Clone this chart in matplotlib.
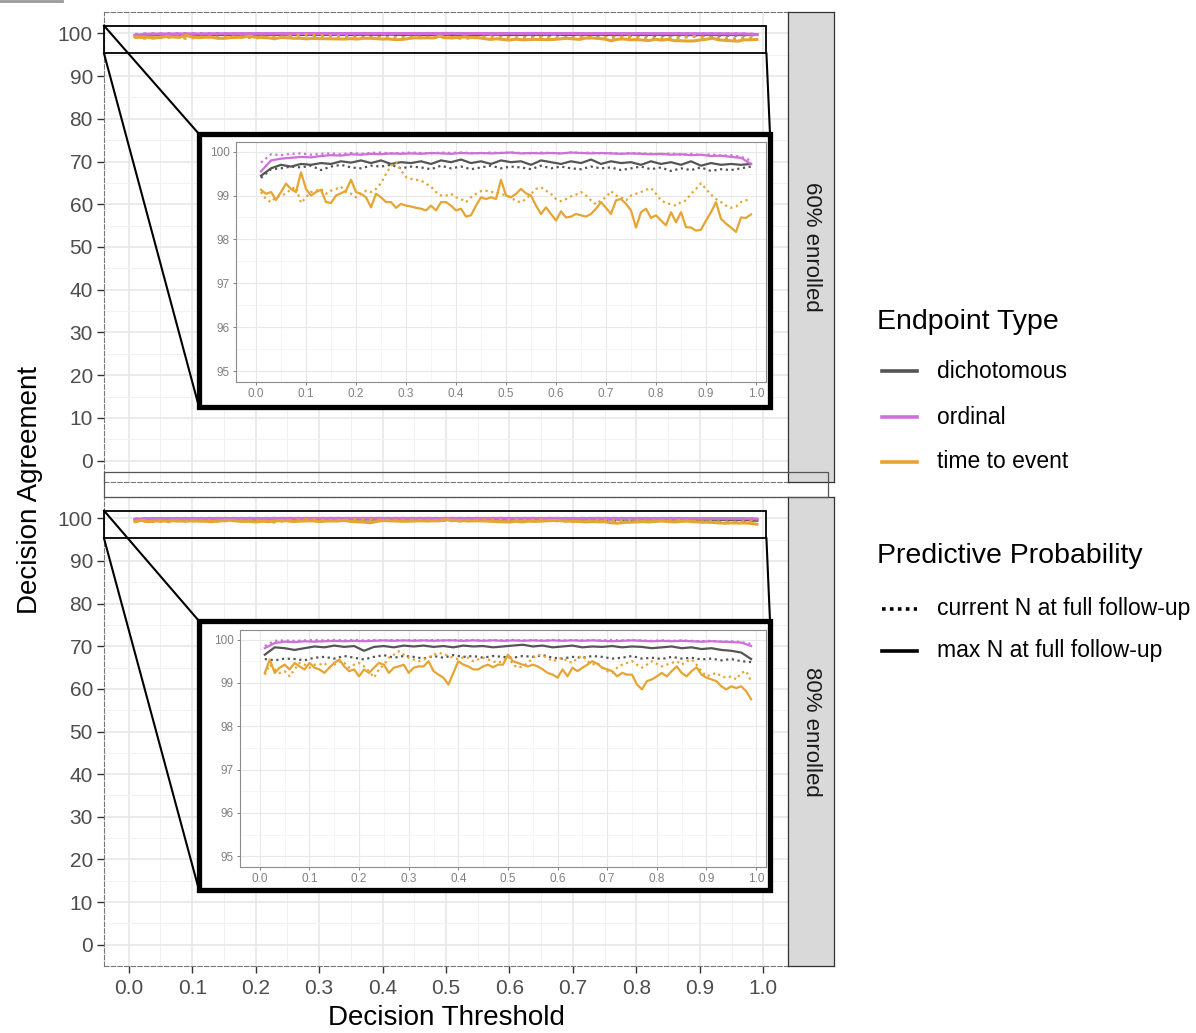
import numpy as np
import matplotlib.pyplot as plt
from matplotlib.patches import Rectangle
from matplotlib.lines import Line2D
from matplotlib.ticker import MultipleLocator

plt.rcParams['font.family'] = ['Liberation Sans', 'DejaVu Sans']

W, H = 1196, 1033

# decision thresholds
thr = np.arange(1, 100) / 100          # 0.01 .. 0.99
thr2 = np.arange(1, 100, 2) / 100      # 0.01, 0.03 .. 0.99 (flatter series)

panels = ["60% enrolled", "80% enrolled"]
endpoints = ["dichotomous", "ordinal", "time to event"]
colors = {"dichotomous": "#555555", "ordinal": "#CF6FD9", "time to event": "#E6A532"}
pp_labels = ["current N at full follow-up", "max N at full follow-up"]

# ---------------- 60% enrolled ----------------
dich_cur_60 = [99.40, 99.60, 99.62, 99.66, 99.64, 99.68, 99.58, 99.66, 99.70, 99.64,
               99.62, 99.68, 99.66, 99.70, 99.62, 99.66, 99.64, 99.60, 99.68, 99.62,
               99.66, 99.60, 99.64, 99.68, 99.62, 99.66, 99.64, 99.60, 99.68, 99.62,
               99.66, 99.62, 99.60, 99.66, 99.62, 99.64, 99.58, 99.62, 99.66, 99.60,
               99.64, 99.56, 99.62, 99.58, 99.64, 99.56, 99.60, 99.58, 99.62, 99.66]
dich_max_60 = [99.45, 99.62, 99.70, 99.66, 99.72, 99.70, 99.74, 99.72, 99.78, 99.75,
               99.80, 99.74, 99.80, 99.72, 99.76, 99.74, 99.78, 99.72, 99.80, 99.76,
               99.82, 99.74, 99.78, 99.72, 99.80, 99.76, 99.78, 99.70, 99.80, 99.76,
               99.72, 99.78, 99.74, 99.82, 99.72, 99.78, 99.74, 99.76, 99.70, 99.78,
               99.72, 99.76, 99.70, 99.78, 99.68, 99.74, 99.70, 99.72, 99.70, 99.72]
ord_cur_60 = [99.75, 99.94, 99.92, 99.95, 99.96, 99.93, 99.95, 99.96, 99.94, 99.97,
              99.95, 99.97, 99.98, 99.96, 99.97, 99.98, 99.97, 99.96, 99.98, 99.97,
              99.98, 99.97, 99.96, 99.98, 99.97, 99.98, 99.97, 99.96, 99.98, 99.97,
              99.96, 99.98, 99.97, 99.98, 99.96, 99.97, 99.95, 99.97, 99.96, 99.95,
              99.94, 99.96, 99.93, 99.95, 99.92, 99.94, 99.91, 99.92, 99.88, 99.80]
ord_max_60 = [99.55, 99.80, 99.84, 99.86, 99.88, 99.87, 99.90, 99.92, 99.91, 99.94,
              99.93, 99.95, 99.94, 99.96, 99.95, 99.96, 99.95, 99.97, 99.96, 99.95,
              99.97, 99.96, 99.97, 99.96, 99.97, 99.98, 99.96, 99.97, 99.96, 99.97,
              99.96, 99.98, 99.97, 99.96, 99.97, 99.96, 99.95, 99.96, 99.95, 99.94,
              99.95, 99.93, 99.94, 99.92, 99.93, 99.90, 99.91, 99.88, 99.86, 99.72]
tte_cur_60 = [99.08, 98.92, 98.85, 98.96, 99.00, 99.04, 99.15, 99.19, 98.83, 98.96,
              99.08, 99.11, 99.15, 99.04, 99.11, 99.15, 99.20, 99.08, 99.04, 98.96,
              99.04, 99.11, 99.08, 99.15, 99.28, 99.49, 99.68, 99.76, 99.57, 99.42,
              99.38, 99.36, 99.34, 99.27, 99.20, 99.08, 99.00, 99.00, 99.04, 98.96,
              98.92, 98.85, 98.96, 99.04, 99.10, 99.11, 99.08, 99.08, 99.04, 99.00,
              98.96, 98.87, 98.85, 98.92, 99.04, 99.15, 99.19, 99.11, 99.04, 98.92,
              98.87, 98.92, 98.98, 99.02, 99.08, 99.00, 98.89, 98.80, 98.89, 98.96,
              99.10, 99.00, 98.96, 98.89, 99.00, 99.04, 99.08, 99.13, 99.17, 99.04,
              98.89, 98.83, 98.80, 98.77, 98.85, 98.89, 99.04, 99.15, 99.28, 99.15,
              99.02, 98.92, 98.85, 98.77, 98.72, 98.75, 98.85, 98.89, 98.92]
tte_max_60 = [99.13, 99.04, 99.08, 98.90, 99.08, 99.27, 99.15, 99.08, 99.53, 99.15,
              99.00, 99.08, 99.13, 98.85, 98.83, 99.00, 99.05, 99.11, 99.36, 99.08,
              99.04, 98.96, 98.73, 99.04, 98.96, 98.85, 98.85, 98.72, 98.81, 98.77,
              98.75, 98.72, 98.70, 98.66, 98.77, 98.66, 98.85, 98.85, 98.77, 98.66,
              98.70, 98.52, 98.55, 98.77, 98.96, 98.92, 98.96, 98.92, 99.36, 99.00,
              98.96, 99.04, 99.15, 99.05, 99.00, 98.77, 98.58, 98.73, 98.58, 98.43,
              98.64, 98.50, 98.52, 98.58, 98.55, 98.52, 98.58, 98.70, 98.85, 98.72,
              98.58, 98.89, 98.92, 98.81, 98.66, 98.27, 98.62, 98.70, 98.49, 98.55,
              98.43, 98.32, 98.62, 98.39, 98.62, 98.28, 98.27, 98.20, 98.22, 98.43,
              98.62, 98.85, 98.47, 98.36, 98.27, 98.17, 98.50, 98.49, 98.57]

# ---------------- 80% enrolled ----------------
dich_cur_80 = [99.55, 99.52, 99.56, 99.55, 99.52, 99.58, 99.60, 99.56, 99.62, 99.58,
               99.54, 99.60, 99.64, 99.58, 99.62, 99.60, 99.56, 99.62, 99.58, 99.64,
               99.60, 99.62, 99.58, 99.62, 99.60, 99.58, 99.62, 99.60, 99.64, 99.58,
               99.56, 99.60, 99.58, 99.62, 99.60, 99.56, 99.58, 99.62, 99.56, 99.58,
               99.55, 99.60, 99.56, 99.58, 99.54, 99.56, 99.52, 99.55, 99.50, 99.48]
dich_max_80 = [99.65, 99.82, 99.80, 99.76, 99.80, 99.84, 99.82, 99.86, 99.83, 99.85,
               99.74, 99.83, 99.85, 99.82, 99.86, 99.84, 99.86, 99.83, 99.85, 99.82,
               99.86, 99.84, 99.85, 99.82, 99.84, 99.86, 99.88, 99.84, 99.86, 99.82,
               99.84, 99.86, 99.82, 99.84, 99.83, 99.85, 99.82, 99.84, 99.83, 99.80,
               99.82, 99.84, 99.80, 99.82, 99.78, 99.80, 99.76, 99.74, 99.70, 99.55]
ord_cur_80 = [99.85, 99.97, 99.98, 99.97, 99.98, 99.99, 99.98, 99.99, 99.98, 99.99,
              99.98, 99.99, 99.98, 99.99, 99.98, 99.99, 99.98, 99.99, 99.98, 99.99,
              99.98, 99.99, 99.98, 99.99, 99.98, 99.99, 99.98, 99.99, 99.98, 99.99,
              99.98, 99.99, 99.98, 99.99, 99.98, 99.99, 99.98, 99.99, 99.98, 99.97,
              99.98, 99.97, 99.98, 99.97, 99.96, 99.97, 99.95, 99.96, 99.94, 99.90]
ord_max_80 = [99.80, 99.92, 99.95, 99.94, 99.96, 99.95, 99.96, 99.97, 99.96, 99.97,
              99.96, 99.97, 99.98, 99.97, 99.98, 99.97, 99.98, 99.97, 99.98, 99.98,
              99.97, 99.98, 99.97, 99.98, 99.97, 99.98, 99.97, 99.98, 99.97, 99.98,
              99.97, 99.98, 99.97, 99.98, 99.97, 99.96, 99.97, 99.98, 99.97, 99.96,
              99.97, 99.96, 99.97, 99.96, 99.95, 99.96, 99.95, 99.94, 99.93, 99.85]
tte_cur_80 = [99.19, 99.42, 99.31, 99.23, 99.27, 99.15, 99.31, 99.46, 99.42, 99.35,
              99.42, 99.42, 99.46, 99.35, 99.42, 99.50, 99.46, 99.35, 99.42, 99.46,
              99.38, 99.27, 99.12, 99.31, 99.42, 99.58, 99.65, 99.73, 99.65, 99.58,
              99.54, 99.50, 99.54, 99.58, 99.65, 99.69, 99.67, 99.62, 99.58, 99.54,
              99.59, 99.58, 99.50, 99.54, 99.58, 99.54, 99.50, 99.46, 99.50, 99.62,
              99.42, 99.35, 99.38, 99.46, 99.58, 99.65, 99.62, 99.58, 99.50, 99.54,
              99.58, 99.50, 99.46, 99.58, 99.62, 99.50, 99.42, 99.46, 99.35, 99.27,
              99.23, 99.35, 99.42, 99.46, 99.50, 99.42, 99.35, 99.42, 99.50, 99.44,
              99.38, 99.42, 99.46, 99.50, 99.42, 99.50, 99.54, 99.42, 99.27, 99.15,
              99.19, 99.23, 99.15, 99.12, 99.15, 99.08, 99.23, 99.27, 99.04]
tte_max_80 = [99.23, 99.54, 99.23, 99.35, 99.42, 99.31, 99.46, 99.38, 99.31, 99.46,
              99.35, 99.31, 99.23, 99.35, 99.46, 99.54, 99.38, 99.27, 99.31, 99.15,
              99.31, 99.23, 99.35, 99.46, 99.42, 99.23, 99.35, 99.38, 99.42, 99.23,
              99.35, 99.38, 99.38, 99.50, 99.27, 99.19, 99.12, 98.96, 99.23, 99.50,
              99.42, 99.38, 99.31, 99.31, 99.38, 99.42, 99.36, 99.42, 99.42, 99.65,
              99.50, 99.46, 99.42, 99.38, 99.42, 99.38, 99.31, 99.23, 99.19, 99.12,
              99.31, 99.15, 99.35, 99.27, 99.35, 99.42, 99.50, 99.44, 99.35, 99.31,
              99.27, 99.15, 99.23, 99.19, 99.19, 98.96, 98.85, 99.04, 99.08, 99.15,
              99.23, 99.15, 99.27, 99.38, 99.23, 99.15, 99.27, 99.36, 99.19, 99.12,
              99.08, 99.04, 98.92, 98.85, 98.92, 98.88, 98.92, 98.81, 98.62]

series = {
    "60% enrolled": {
        "dichotomous": (dich_cur_60, dich_max_60),
        "ordinal": (ord_cur_60, ord_max_60),
        "time to event": (tte_cur_60, tte_max_60),
    },
    "80% enrolled": {
        "dichotomous": (dich_cur_80, dich_max_80),
        "ordinal": (ord_cur_80, ord_max_80),
        "time to event": (tte_cur_80, tte_max_80),
    },
}


def px(l, t, r, b):
    # pixel box -> figure fraction rect
    return [l / W, 1 - b / H, (r - l) / W, (b - t) / H]


def fx(x, y):
    return x / W, 1 - y / H


def xvals(vals):
    return thr if len(vals) == len(thr) else thr2


fig = plt.figure(figsize=(W / 100, H / 100), dpi=100)

main_boxes = [(104, 12, 788, 482), (104, 497, 788, 966)]
frame_boxes = [(199, 134, 770, 407), (199, 621, 770, 890)]
inset_boxes = [(236, 142, 766, 382), (240, 630, 766, 867)]
zoom_from = (-0.039, 1.005, 95.3, 101.8)

for i, name in enumerate(panels):
    ax = fig.add_axes(px(*main_boxes[i]))
    ax.set_xlim(-0.039, 1.039)
    ax.set_ylim(-5, 105)
    ax.set_yticks(range(0, 101, 10))
    ax.set_xticks(np.arange(0, 1.01, 0.1))
    ax.xaxis.set_minor_locator(MultipleLocator(0.05))
    ax.yaxis.set_minor_locator(MultipleLocator(5))
    ax.grid(True, which='major', color='#E6E6E6', lw=1.1)
    ax.grid(True, which='minor', color='#F1F1F1', lw=0.7)
    ax.set_axisbelow(True)
    for s in ax.spines.values():
        s.set_color('#777777')
        s.set_linestyle((0, (4, 2)))
        s.set_linewidth(0.8)
    ax.tick_params(axis='y', which='major', labelsize=15, labelcolor='#4D4D4D',
                   color='#333333', length=5, width=1, pad=3)
    ax.tick_params(which='minor', length=0)
    if i == 0:
        ax.tick_params(axis='x', which='major', bottom=False, labelbottom=False)
    else:
        ax.tick_params(axis='x', which='major', labelsize=15, labelcolor='#4D4D4D',
                       color='#333333', length=5, width=1, pad=4)
        ax.set_xticklabels([f"{v:.1f}" for v in np.arange(0, 1.01, 0.1)])

    for ep in endpoints:
        cur, mx = series[name][ep]
        ax.plot(xvals(cur), cur, color=colors[ep], lw=2.2, ls=':')
        ax.plot(xvals(mx), mx, color=colors[ep], lw=2.2)

    # zoom source box
    x0, x1, y0, y1 = zoom_from
    ax.add_patch(Rectangle((x0, y0), x1 - x0, y1 - y0, fill=False, ec='black',
                           lw=1.3, clip_on=False, zorder=6))

    # connector lines (figure coords)
    to_fig = ax.transData + fig.transFigure.inverted()
    tl = to_fig.transform((x0, y1))
    bl = to_fig.transform((x0, y0))
    br = to_fig.transform((x1, y0))
    fl, ft, fr, fb = frame_boxes[i]
    for p, q in [(tl, fx(fl, ft)), (bl, fx(fl, fb)), (br, fx(fr, ft))]:
        fig.add_artist(Line2D([p[0], q[0]], [p[1], q[1]], color='black', lw=1.5, zorder=1.5))

    # inset frame: white fill below, thick black edge above
    fig.add_artist(Rectangle(fx(fl, fb), (fr - fl) / W, (fb - ft) / H,
                             transform=fig.transFigure, fc='white', ec='none', zorder=2))

    ins = fig.add_axes(px(*inset_boxes[i]), zorder=3)
    ins.set_xlim(-0.04, 1.02)
    ins.set_ylim(94.75, 100.22)
    ins.set_xticks(np.arange(0, 1.01, 0.1))
    ins.set_xticklabels([f"{v:.1f}" for v in np.arange(0, 1.01, 0.1)])
    ins.set_yticks(range(95, 101))
    ins.xaxis.set_minor_locator(MultipleLocator(0.05))
    ins.yaxis.set_minor_locator(MultipleLocator(0.5))
    ins.grid(True, which='major', color='#E8E8E8', lw=0.8)
    ins.grid(True, which='minor', color='#F2F2F2', lw=0.5)
    ins.set_axisbelow(True)
    for s in ins.spines.values():
        s.set_color('#8C8C8C')
        s.set_linewidth(0.8)
    ins.tick_params(which='major', labelsize=8.5, labelcolor='#808080',
                    color='#808080', length=2.5, width=0.7, pad=2)
    ins.tick_params(which='minor', length=0)
    for ep in endpoints:
        cur, mx = series[name][ep]
        ins.plot(xvals(cur), cur, color=colors[ep], lw=1.6, ls=(0, (1, 1.6)))
        ins.plot(xvals(mx), mx, color=colors[ep], lw=1.6)

    fig.add_artist(Rectangle(fx(fl, fb), (fr - fl) / W, (fb - ft) / H,
                             transform=fig.transFigure, fill=False, ec='black',
                             lw=3.8, zorder=4))

    # facet strip
    st = main_boxes[i]
    sax = fig.add_axes(px(788, st[1], 834, st[3]))
    sax.set_facecolor('#D9D9D9')
    sax.set_xticks([])
    sax.set_yticks([])
    for s in sax.spines.values():
        s.set_color('#333333')
        s.set_linewidth(0.9)
    sax.text(0.5, 0.5, name, rotation=-90, ha='center', va='center',
             fontsize=16, color='#1A1A1A', transform=sax.transAxes)

# outline band between the two panels
fig.add_artist(Rectangle(fx(104, 497), (828 - 104) / W, 25 / H, transform=fig.transFigure,
                         fill=False, ec='#555555', lw=0.9, zorder=5))
fig.add_artist(Line2D([0, 62 / W], [1 - 1 / H, 1 - 1 / H], color='#9A9A9A', lw=2))

# axis titles
fig.text(*fx(30, 490), "Decision Agreement", rotation=90, ha='center', va='center', fontsize=20)
fig.text(*fx(446, 1018), "Decision Threshold", ha='center', va='center', fontsize=20)

# legends
fig.text(*fx(877, 322), "Endpoint Type", ha='left', va='center', fontsize=20.5)
for ep, yy in zip(endpoints, [371, 417, 462]):
    a, b = fx(882, yy)
    c, _ = fx(917, yy)
    fig.add_artist(Line2D([a, c], [b, b], color=colors[ep], lw=2.6))
    fig.text(*fx(937, yy), ep, ha='left', va='center', fontsize=16.5)

fig.text(*fx(877, 556), "Predictive Probability", ha='left', va='center', fontsize=20.5)
for lab, ls, yy in zip(pp_labels, [(0, (1, 1.2)), '-'], [609, 651]):
    a, b = fx(882, yy)
    c, _ = fx(917, yy)
    fig.add_artist(Line2D([a, c], [b, b], color='black', lw=2.6, ls=ls))
    fig.text(*fx(937, yy), lab, ha='left', va='center', fontsize=16.5)

fig.savefig("out.png", dpi=100)
